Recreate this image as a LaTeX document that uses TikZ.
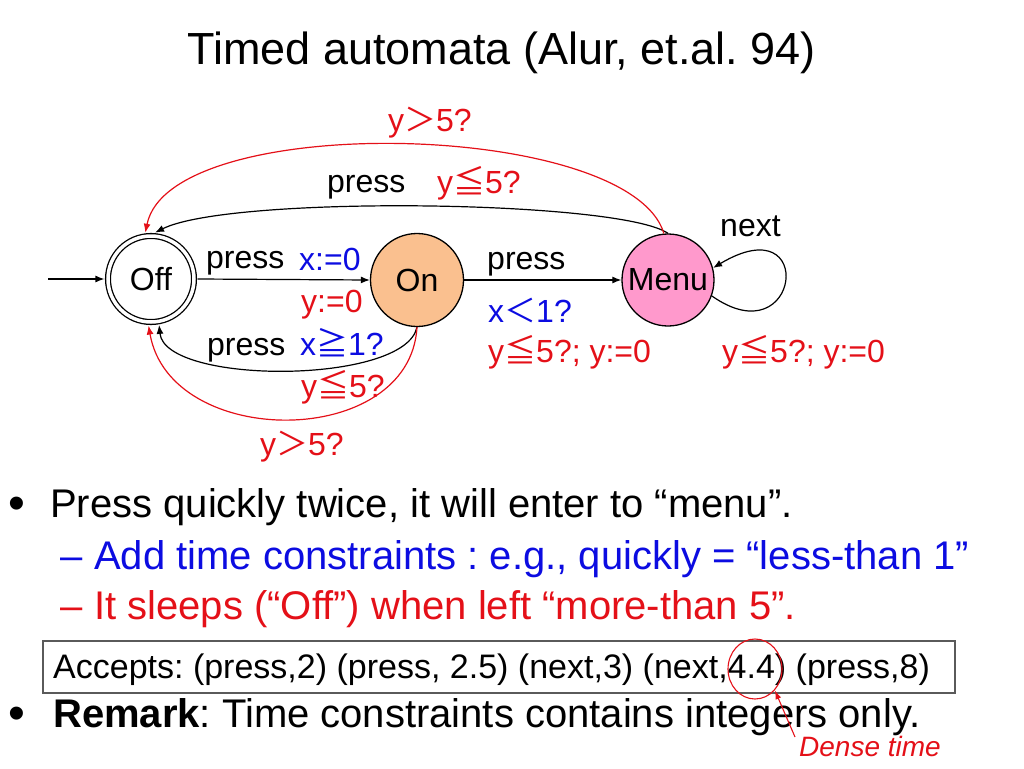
\documentclass[tikz,border=0pt]{standalone}
\usepackage{fontspec}
\setmainfont{Liberation Sans}
\newfontfamily\cjk{Noto Sans CJK JP}
\usetikzlibrary{arrows.meta,shapes.geometric}
\definecolor{mred}{RGB}{228,16,24}
\definecolor{mblue}{RGB}{12,12,225}
\definecolor{onfill}{RGB}{250,192,143}
\definecolor{menufill}{RGB}{255,153,204}
\definecolor{boxgray}{RGB}{90,90,90}
\newcommand{\myleq}{{\cjk ≦}}
\newcommand{\mygeq}{{\cjk ≧}}
\newcommand{\mygt}{{\cjk ＞}}
\newcommand{\mylt}{{\cjk ＜}}
\frenchspacing
\begin{document}
\begin{tikzpicture}[x=1pt,y=-1pt,
  lbl/.style={font=\fontsize{32}{36}\selectfont, inner sep=0pt, text height=23pt, text depth=7pt, anchor=west},
  state/.style={circle, draw, line width=1.3pt, inner sep=0pt, font=\fontsize{32}{36}\selectfont},
  edge/.style={line width=1.2pt, -{Latex[length=9pt,width=7pt]}},
  body/.style={font=\fontsize{40}{46}\selectfont, inner sep=0pt, anchor=base west},
  bulletmark/.style={font=\fontsize{48}{52}\selectfont, inner sep=0pt, anchor=base},
  title/.style={font=\fontsize{45}{50}\selectfont, inner sep=0pt, anchor=base west}]
\useasboundingbox (0,0) rectangle (1024,768);
% title
\node[title] (title) at (187,64) {Timed automata (Alur, et.al. 94)};
% states
\node[state, double, double distance=3.5pt, minimum size=86pt, outer sep=3.6pt] (off) at (151,279) {Off};
\node[state, fill=onfill, minimum size=93pt] (on) at (417,280) {On};
\node[state, fill=menufill, minimum size=92pt] (menu) at (668,280) {Menu};
\coordinate (start) at (48,279);
% edges
\draw[edge] (start) -- (off.west);
\draw[edge] (off.east) -- (on.west);
\draw[edge] (on.east) -- (menu.west);
\draw[edge] (menu.north) .. controls (620,200) and (230,195) .. (off.85);
\draw[edge, mred] (menu.95) .. controls (630,120) and (170,110) .. (off.97);
\draw[edge] (on.south) .. controls (405,385) and (165,385) .. (off.-80);
\draw[edge, mred] (on.south) .. controls (410,450) and (170,450) .. (off.-93);
\draw[edge] (menu.-20) .. controls (800,358) and (818,205) .. (menu.15);
% labels
\node[lbl, text=mred] (l1) at (388,123) {y\mygt 5?};
\node[lbl] (l2) at (327,184) {press};
\node[lbl, text=mred] (l3) at (437,185) {y\myleq 5?};
\node[lbl] (l4) at (720,228) {next};
\node[lbl] (l5) at (206,260) {press};
\node[lbl, text=mblue] (l6) at (299,262) {x:=0};
\node[lbl, text=mred] (l7) at (301,304) {y:=0};
\node[lbl] (l8) at (487,261) {press};
\node[lbl, text=mblue] (l9) at (488,314) {x\mylt 1?};
\node[lbl, text=mred] (l10) at (488,354) {y\myleq 5?; y:=0};
\node[lbl, text=mred] (l11) at (722,354) {y\myleq 5?; y:=0};
\node[lbl] (l12) at (207,347) {press};
\node[lbl, text=mblue] (l13) at (300,347) {x\mygeq 1?};
\node[lbl, text=mred] (l14) at (301,389) {y\myleq 5?};
\node[lbl, text=mred] (l15) at (260,447) {y\mygt 5?};
% bullets
\node[bulletmark] (bul1) at (17,519) {•};
\node[body] (t1) at (50,517) {Press quickly twice, it will enter to “menu”.};
\node[body, text=mblue] (d2) at (60,569) {–};
\node[body, text=mblue] (t2) at (94,569) {Add time constraints : e.g., quickly = “less-than 1”};
\node[body, text=mred] (d3) at (60,619) {–};
\node[body, text=mred] (t3) at (94,619) {It sleeps (“Off”) when left “more-than 5”.};
% accepts box
\node[draw=boxgray, line width=1.5pt, rectangle, anchor=north west, minimum width=912pt, minimum height=52pt, inner sep=0pt] (box) at (42,640) {};
\node[font=\fontsize{34}{38}\selectfont, inner sep=0pt, anchor=base west] (acc) at (53,678) {Accepts: (press,2) (press, 2.5) (next,3) (next,4.4) (press,8)};
\node[ellipse, draw=mred, line width=1.1pt, minimum width=54pt, minimum height=60pt, inner sep=0pt] (circ) at (755,669) {};
% remark
\node[bulletmark] (bul2) at (17,729) {•};
\node[body] (rem) at (53,727) {\textbf{Remark}: Time constraints contains integers only.};
\node[font=\fontsize{28}{32}\selectfont\itshape, text=mred, inner sep=0pt, anchor=base west] (dt) at (799,756) {Dense time};
\coordinate (dts) at (795,737);
\draw[mred, line width=1.1pt, -{Latex[length=9pt,width=6pt]}] (dts) -- (circ.-47);
\end{tikzpicture}
\end{document}
